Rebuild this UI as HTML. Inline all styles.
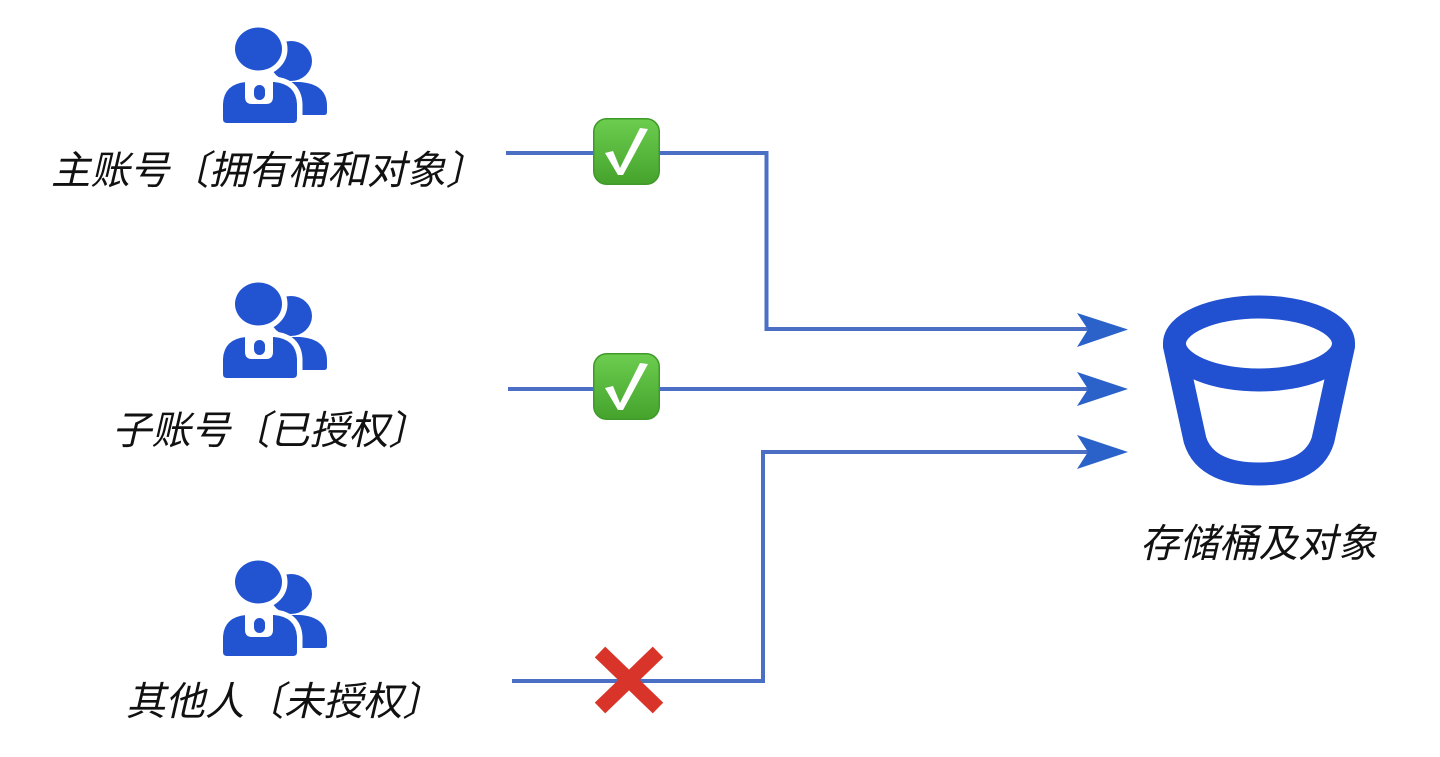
<!DOCTYPE html>
<html>
<head>
<meta charset="utf-8">
<style>
html,body{margin:0;padding:0;background:#fff;}
svg{display:block;}
text{font-family:"Liberation Sans","Noto Sans CJK SC",sans-serif;font-size:39.5px;fill:#111;}
</style>
</head>
<body>
<svg width="1440" height="757" viewBox="0 0 1440 757" xmlns="http://www.w3.org/2000/svg">
<defs>
  <linearGradient id="gg" x1="0" y1="0" x2="0" y2="1">
    <stop offset="0" stop-color="#6ccd4f"/>
    <stop offset="1" stop-color="#45a32c"/>
  </linearGradient>
  <g id="person">
    <!-- back person -->
    <ellipse cx="291" cy="61" rx="21" ry="20" fill="#2253d1"/>
    <path d="M276,115 L276,82 L300,82 Q327,84 327,106 L327,112 Q327,115 324,115 Z" fill="#2253d1"/>
    <!-- front person with white outline -->
    <ellipse cx="258.5" cy="49" rx="23.5" ry="21.5" fill="#2253d1" stroke="#fff" stroke-width="11" paint-order="stroke"/>
    <path d="M223,123 L223,104 Q224,84 246,82 L274,82 Q296,84 297,104 L297,119 Q297,123 293,123 L227,123 Q223,123 223,119 Z" fill="#2253d1" stroke="#fff" stroke-width="11" paint-order="stroke"/>
    <path d="M245,78 L245,97 Q245,104 252,104 L266,104 Q273,104 273,97 L273,78 Z" fill="#fff"/>
    <rect x="254" y="85" width="11" height="15" rx="5.5" fill="#2253d1"/>
  </g>
  <g id="check">
    <rect x="0.75" y="0.75" width="65.5" height="65.5" rx="13" fill="url(#gg)" stroke="#3f9a29" stroke-width="1.5"/>
    <polygon points="12,35 20,33 27,50 47,10 55,11 30,57 25,57" fill="#fff"/>
  </g>
</defs>

<!-- persons -->
<use href="#person"/>
<use href="#person" transform="translate(0,255)"/>
<use href="#person" transform="translate(0,533)"/>

<!-- labels -->
<g transform="translate(51,184) skewX(-13)"><text x="0" y="0">主账号〔拥有桶和对象〕</text></g>
<g transform="translate(112,444) skewX(-13)"><text x="0" y="0">子账号〔已授权〕</text></g>
<g transform="translate(126,715) skewX(-13)"><text x="0" y="0">其他人〔未授权〕</text></g>
<g transform="translate(1140,557) skewX(-13)"><text x="0" y="0">存储桶及对象</text></g>

<!-- connectors -->
<g fill="none" stroke="#4a6fc4" stroke-width="4">
  <polyline points="506,153 766.5,153 766.5,329 1088,329"/>
  <polyline points="508,389 1088,389"/>
  <polyline points="512,681 763,681 763,452 1088,452"/>
</g>
<g fill="#2b62c9">
  <polygon points="1077,313 1128,329.5 1077,347 1088,329.5"/>
  <polygon points="1077,372 1128,389 1077,406 1088,389"/>
  <polygon points="1077,435 1128,452 1077,469 1088,452"/>
</g>

<!-- checks -->
<use href="#check" transform="translate(593,118)"/>
<use href="#check" transform="translate(593,353)"/>

<!-- X mark -->
<g stroke="#d8342a" stroke-width="15" stroke-linecap="butt">
  <line x1="600" y1="652" x2="658" y2="708"/>
  <line x1="658" y1="652" x2="600" y2="708"/>
</g>

<!-- bucket -->
<g fill="none" stroke="#2150d0" stroke-width="23" stroke-linejoin="round" stroke-linecap="round">
  <ellipse cx="1259" cy="343.5" rx="84.5" ry="36.5"/>
  <path d="M1174.5,346 L1195,440 C1203,466 1230,474 1259,474 C1288,474 1315,466 1323,440 L1343.5,346"/>
</g>
</svg>
</body>
</html>
